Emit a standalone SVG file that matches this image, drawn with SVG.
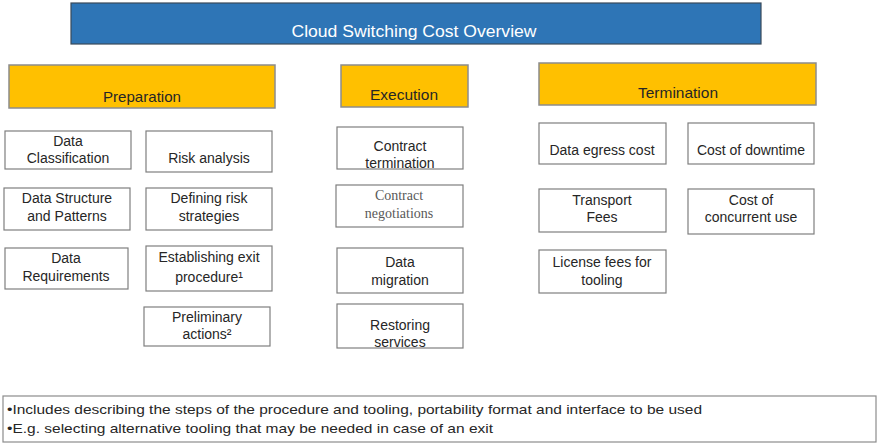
<svg xmlns="http://www.w3.org/2000/svg" width="877" height="443" viewBox="0 0 877 443">
<style>
text{font-family:"Liberation Sans",Arial,sans-serif;fill:#262626;text-anchor:middle}
.box{fill:#fff;stroke:#7f7f7f;stroke-width:1.2}
.hdr{fill:#FFC000;stroke:#8c8c8c;stroke-width:1.5}
.n{font-size:14px}
.h{font-size:15px}
.serif{font-family:"Liberation Serif","Times New Roman",serif;fill:#595959}
</style>
<g id="title">
<rect x="71" y="3" width="690" height="41" fill="#2E75B6" stroke="#3a4a5a" stroke-width="1.2"/>
<text x="414" y="37" style="font-size:16px;fill:#fff" textLength="245" lengthAdjust="spacingAndGlyphs">Cloud Switching Cost Overview</text>
</g>
<g id="preparation"><rect class="hdr" x="9" y="65" width="266" height="43"/><text class="h" x="142" y="102" textLength="78" lengthAdjust="spacingAndGlyphs">Preparation</text></g>
<g id="execution"><rect class="hdr" x="341" y="65" width="127" height="42"/><text class="h" x="404" y="100" textLength="68" lengthAdjust="spacingAndGlyphs">Execution</text></g>
<g id="termination"><rect class="hdr" x="539" y="63" width="277" height="42"/><text class="h" x="678" y="98" textLength="80" lengthAdjust="spacingAndGlyphs">Termination</text></g>

<g id="data-classification"><rect class="box" x="5" y="131" width="126" height="38"/><text class="n" x="68" y="146">Data</text><text class="n" x="68" y="163">Classification</text></g>
<g id="risk-analysis"><rect class="box" x="146" y="131" width="126" height="41"/><text class="n" x="209" y="163">Risk analysis</text></g>
<g id="data-structure"><rect class="box" x="4" y="188" width="126" height="42"/><text class="n" x="67" y="203">Data Structure</text><text class="n" x="67" y="221">and Patterns</text></g>
<g id="defining-risk"><rect class="box" x="146" y="188" width="126" height="42"/><text class="n" x="209" y="203">Defining risk</text><text class="n" x="209" y="221">strategies</text></g>
<g id="data-requirements"><rect class="box" x="5" y="248" width="123" height="41"/><text class="n" x="66" y="263">Data</text><text class="n" x="66" y="281">Requirements</text></g>
<g id="exit-procedure"><rect class="box" x="146" y="246" width="126" height="45"/><text class="n" x="209" y="262">Establishing exit</text><text class="n" x="209" y="282">procedure¹</text></g>
<g id="preliminary-actions"><rect class="box" x="144" y="307" width="126" height="39"/><text class="n" x="207" y="322">Preliminary</text><text class="n" x="207" y="339">actions²</text></g>

<g id="contract-termination"><rect class="box" x="337" y="127" width="126" height="42"/><text class="n" x="400" y="151">Contract</text><text class="n" x="400" y="168">termination</text></g>
<g id="contract-negotiations"><rect class="box" x="336" y="185" width="127" height="42"/><text class="n serif" x="399" y="200">Contract</text><text class="n serif" x="399" y="218">negotiations</text></g>
<g id="data-migration"><rect class="box" x="337" y="248" width="126" height="45"/><text class="n" x="400" y="267">Data</text><text class="n" x="400" y="285">migration</text></g>
<g id="restoring-services"><rect class="box" x="337" y="304" width="126" height="44"/><text class="n" x="400" y="330">Restoring</text><text class="n" x="400" y="347">services</text></g>

<g id="data-egress"><rect class="box" x="539" y="123" width="127" height="41"/><text class="n" x="602" y="155">Data egress cost</text></g>
<g id="cost-downtime"><rect class="box" x="688" y="123" width="126" height="41"/><text class="n" x="751" y="155">Cost of downtime</text></g>
<g id="transport-fees"><rect class="box" x="539" y="189" width="127" height="43"/><text class="n" x="602" y="205">Transport</text><text class="n" x="602" y="222">Fees</text></g>
<g id="concurrent-use"><rect class="box" x="688" y="189" width="126" height="45"/><text class="n" x="751" y="205">Cost of</text><text class="n" x="751" y="222">concurrent use</text></g>
<g id="license-fees"><rect class="box" x="539" y="250" width="127" height="43"/><text class="n" x="602" y="267">License fees for</text><text class="n" x="602" y="285">tooling</text></g>

<g id="footnotes">
<rect x="3" y="396" width="873" height="46" fill="#fff" stroke="#8c8c8c" stroke-width="1.2"/>
<text x="7" y="414" style="font-size:13px;text-anchor:start" textLength="695" lengthAdjust="spacingAndGlyphs">•Includes describing the steps of the procedure and tooling, portability format and interface to be used</text>
<text x="7" y="433" style="font-size:13px;text-anchor:start" textLength="486" lengthAdjust="spacingAndGlyphs">•E.g. selecting alternative tooling that may be needed in case of an exit</text>
</g>
<g id="connectors"/>
</svg>
